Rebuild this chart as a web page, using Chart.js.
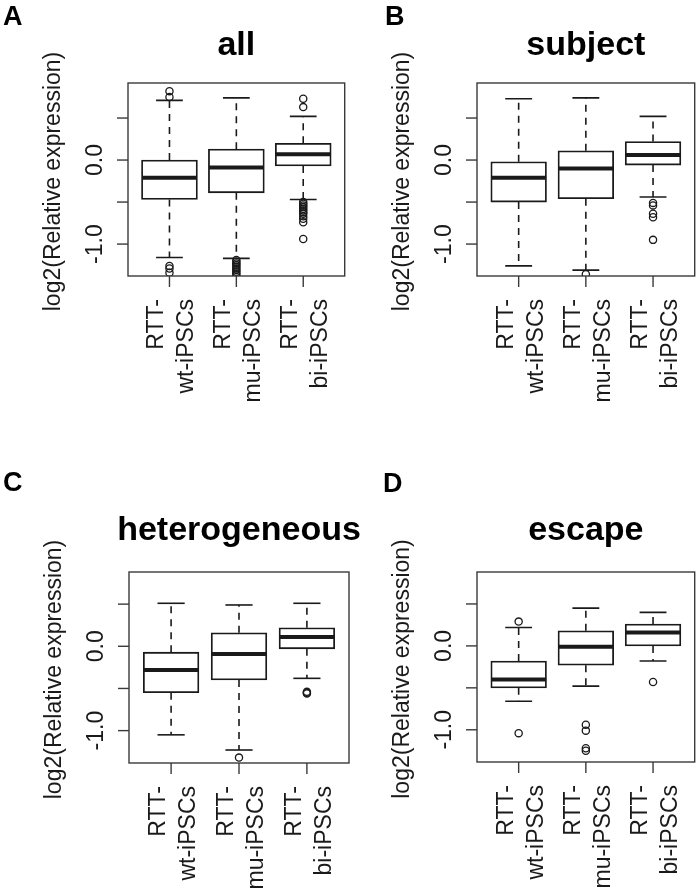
<!DOCTYPE html>
<html>
<head>
<meta charset="utf-8">
<script src="https://cdn.jsdelivr.net/npm/chart.js@4/dist/chart.umd.min.js"></script>
<style>
  html, body { margin: 0; padding: 0; background: #fff; }
  #wrap { position: relative; width: 700px; height: 894px; overflow: hidden; }
  canvas { position: absolute; }
</style>
</head>
<body>
<div id="wrap">
  <canvas id="pA" width="350" height="447" style="left:0;top:0"></canvas>
  <canvas id="pB" width="350" height="447" style="left:350px;top:0"></canvas>
  <canvas id="pC" width="400" height="447" style="left:0;top:447px"></canvas>
  <canvas id="pD" width="350" height="447" style="left:350px;top:447px"></canvas>
</div>
<script>
// groupes (deux lignes par étiquette)
const groups = [['RTT-', 'wt-iPSCs'], ['RTT-', 'mu-iPSCs'], ['RTT-', 'bi-iPSCs']];
const yTickValues = [0.5, 0.0, -0.5, -1.0];
const yTickLabels = ['', '0.0', '', '-1.0'];
const yTitle = 'log2(Relative expression)';

// chaque ligne : [bas, Q1, médiane, Q3, haut]
const allBox = [[-1.16, -0.47, -0.21, 0.00, 0.71], [-1.17, -0.39, -0.09, 0.13, 0.74], [-0.47, -0.07, 0.07, 0.20, 0.52]];
const allOut = [
  [0.82, 0.75, -1.26, -1.29, -1.34],
  [-1.19, -1.21, -1.23, -1.25, -1.27, -1.29, -1.31, -1.33, -1.35, -1.37],
  [0.73, 0.63, -0.50, -0.52, -0.54, -0.56, -0.58, -0.60, -0.62, -0.64, -0.67, -0.70, -0.74, -0.94]
];
const subjectBox = [[-1.26, -0.50, -0.21, -0.02, 0.73], [-1.31, -0.46, -0.10, 0.11, 0.74], [-0.44, -0.06, 0.06, 0.22, 0.52]];
const subjectOut = [[], [-1.36], [-0.51, -0.54, -0.64, -0.68, -0.95]];
const heteroBox = [[-1.05, -0.55, -0.28, -0.07, 0.51], [-1.23, -0.40, -0.09, 0.16, 0.49], [-0.38, -0.03, 0.11, 0.22, 0.51]];
const heteroOut = [[], [-1.32], [-0.54, -0.55, -0.56]];
const escapeBox = [[-0.66, -0.50, -0.40, -0.18, 0.22], [-0.48, -0.23, -0.01, 0.18, 0.45], [-0.18, 0.00, 0.16, 0.26, 0.40]];
const escapeOut = [[0.29, -1.04], [-0.94, -1.01, -1.22, -1.25], [-0.43]];

const ink = '#1a1a1a';
const frameInk = '#3a3a3a';
const font = '"Liberation Sans", Arial, sans-serif';
const xMin = -0.62, xMax = 2.62;

// un segment = petit dataset line
function seg(x1, y1, x2, y2, width, dash, order) {
  return {
    type: 'line',
    data: [{ x: x1, y: y1 }, { x: x2, y: y2 }],
    borderColor: ink,
    borderWidth: width,
    borderDash: dash,
    pointRadius: 0,
    fill: false,
    order: order
  };
}

// cadre, graduations et textes
const deco = {
  id: 'deco',
  afterDraw(chart, args, o) {
    const { ctx, chartArea: a, scales: { x, y } } = chart;
    ctx.save();
    ctx.strokeStyle = frameInk;
    ctx.lineWidth = 1.4;
    ctx.strokeRect(a.left, a.top, a.right - a.left, a.bottom - a.top);

    ctx.fillStyle = ink;
    ctx.font = '23px ' + font;
    ctx.textAlign = 'center';
    ctx.textBaseline = 'alphabetic';

    // axe y
    yTickValues.forEach((v, k) => {
      const py = y.getPixelForValue(v);
      ctx.beginPath();
      ctx.moveTo(a.left - 11, py);
      ctx.lineTo(a.left, py);
      ctx.stroke();
      if (yTickLabels[k]) {
        ctx.save();
        ctx.translate(a.left - 26, py);
        ctx.rotate(-Math.PI / 2);
        ctx.fillText(yTickLabels[k], 0, 0);
        ctx.restore();
      }
    });
    ctx.save();
    ctx.translate(a.left - 68, (a.top + a.bottom) / 2 + 2);
    ctx.rotate(-Math.PI / 2);
    ctx.fillText(yTitle, 0, 0);
    ctx.restore();

    // axe x
    groups.forEach((g, i) => {
      const px = x.getPixelForValue(i);
      ctx.beginPath();
      ctx.moveTo(px, a.bottom);
      ctx.lineTo(px, a.bottom + 11);
      ctx.stroke();
      ctx.save();
      ctx.translate(px, a.bottom + 23);
      ctx.rotate(-Math.PI / 2);
      ctx.textAlign = 'right';
      ctx.fillText(g[0], 0, -6);
      ctx.fillText(g[1], 0, 24);
      ctx.restore();
    });

    // titre et lettre
    ctx.font = 'bold 34px ' + font;
    ctx.textAlign = 'center';
    ctx.fillStyle = '#000';
    ctx.fillText(o.title, (a.left + a.right) / 2, o.titleY);
    ctx.font = 'bold 27px ' + font;
    ctx.textAlign = 'left';
    ctx.fillText(o.letter, o.letterX, o.letterY);
    ctx.restore();
  }
};

function makePanel(id, letter, title, box, out, pad, yMin, yMax, titleY, letterX, letterY) {
  const canvas = document.getElementById(id);
  const unit = (canvas.width - pad.left - pad.right) / (xMax - xMin);
  const ds = [];
  ds.push({
    type: 'line',
    showLine: false,
    data: out.flatMap((vals, i) => vals.map(v => ({ x: i, y: v }))),
    pointRadius: 3.6,
    pointBorderWidth: 1.3,
    pointBorderColor: ink,
    pointBackgroundColor: 'rgba(0,0,0,0)',
    order: 1
  });
  box.forEach((b, i) => {
    ds.push(seg(i - 0.41, b[2], i + 0.41, b[2], 4, [], 2));   // médiane
    ds.push(seg(i - 0.2, b[0], i + 0.2, b[0], 1.6, [], 3));   // moustache basse
    ds.push(seg(i - 0.2, b[4], i + 0.2, b[4], 1.6, [], 3));   // moustache haute
    ds.push(seg(i, b[1], i, b[0], 1.6, [7, 6], 5));
    ds.push(seg(i, b[3], i, b[4], 1.6, [7, 6], 5));
  });
  ds.push({
    type: 'bar',
    data: box.map((b, i) => ({ x: i, y: [b[1], b[3]] })),
    backgroundColor: '#fff',
    borderColor: ink,
    borderWidth: 1.8,
    borderSkipped: false,
    barThickness: unit * 0.82,
    order: 4
  });

  new Chart(canvas, {
    type: 'bar',
    data: { datasets: ds },
    options: {
      responsive: false,
      animation: false,
      layout: { padding: pad },
      scales: {
        x: { type: 'linear', display: false, offset: false, min: xMin, max: xMax },
        y: { type: 'linear', display: false, min: yMin, max: yMax }
      },
      plugins: {
        legend: { display: false },
        tooltip: { enabled: false },
        deco: { title, letter, titleY, letterX, letterY }
      }
    },
    plugins: [deco]
  });
}

makePanel('pA', 'A', 'all', allBox, allOut, { left: 128, right: 1, top: 83, bottom: 171 }, -1.38, 0.917, 55, 3, 25);
makePanel('pB', 'B', 'subject', subjectBox, subjectOut, { left: 127, right: 3, top: 83, bottom: 171 }, -1.38, 0.917, 55, 35, 25);
makePanel('pC', 'C', 'heterogeneous', heteroBox, heteroOut, { left: 129, right: 51, top: 125, bottom: 131 }, -1.384, 0.881, 93, 3, 44);
makePanel('pD', 'D', 'escape', escapeBox, escapeOut, { left: 127, right: 3, top: 125, bottom: 132 }, -1.384, 0.881, 93, 33, 45);
</script>
</body>
</html>
